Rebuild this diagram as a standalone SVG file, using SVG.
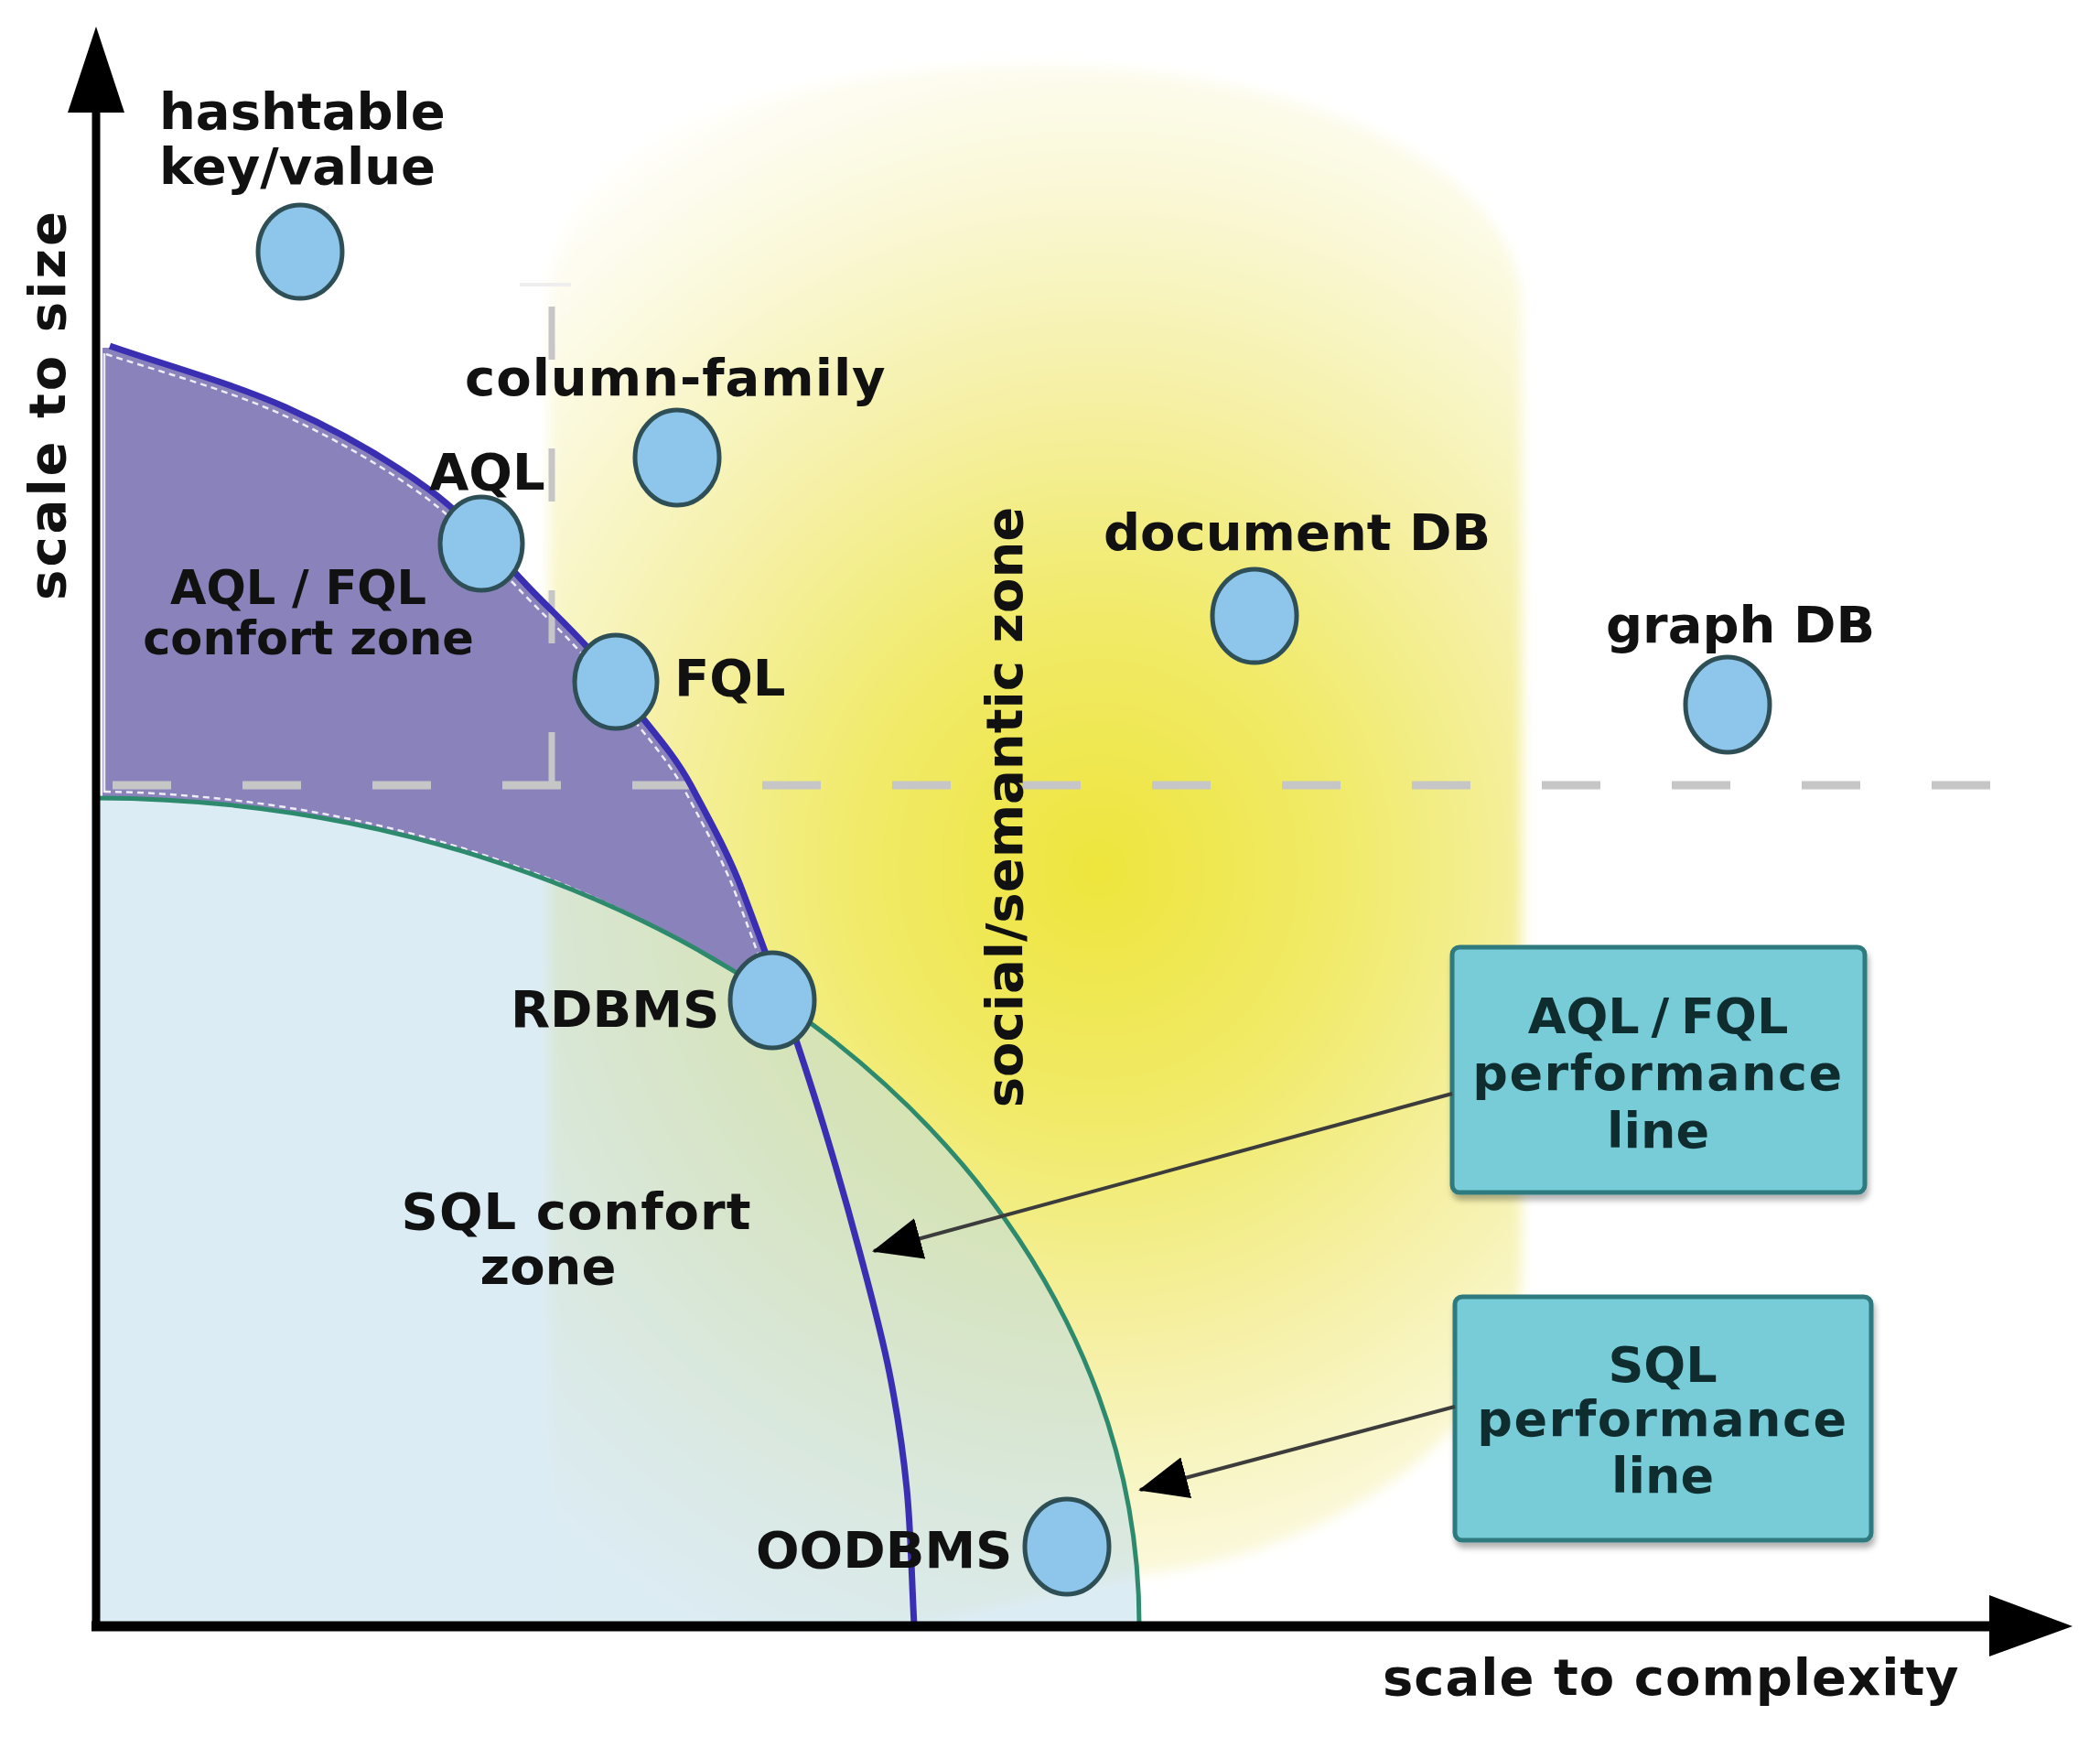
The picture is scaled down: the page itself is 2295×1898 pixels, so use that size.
<svg xmlns="http://www.w3.org/2000/svg" width="2295" height="1898" viewBox="0 0 2295 1898">
<defs>
  <radialGradient id="yel" gradientUnits="userSpaceOnUse" cx="1200" cy="950" r="900" gradientTransform="translate(1200,950) scale(1,1.05) translate(-1200,-950)">
    <stop offset="0" stop-color="#eee53c"/>
    <stop offset="0.3" stop-color="#f1ea6a"/>
    <stop offset="0.55" stop-color="#f5f0a4"/>
    <stop offset="0.8" stop-color="#faf8d8"/>
    <stop offset="1" stop-color="#fffefa"/>
  </radialGradient>
  <filter id="soft" x="-5%" y="-5%" width="110%" height="110%"><feGaussianBlur stdDeviation="7"/></filter>
  <filter id="shadow" x="-5%" y="-5%" width="115%" height="120%"><feDropShadow dx="2" dy="6" stdDeviation="3" flood-color="#000" flood-opacity="0.3"/></filter>
  <filter id="axsh" x="-5%" y="-50%" width="110%" height="300%"><feGaussianBlur stdDeviation="3"/></filter>
  <marker id="ah" viewBox="0 0 54 46" refX="52" refY="23" markerWidth="54" markerHeight="46" markerUnits="userSpaceOnUse" orient="auto">
    <path d="M0,0 L54,23 L0,46 Z" fill="#000"/>
  </marker>
</defs>
<style>
  text{font-family:"DejaVu Sans","Liberation Sans",sans-serif;font-weight:bold}
  .lbl{fill:#111;font-size:56px}
  .sm{font-size:51px}
  .mid{text-anchor:middle}
  .dot{fill:#8ec5ea;stroke:#2f4f57;stroke-width:5}
  .box{fill:#77ccd8;stroke:#2d7a7e;stroke-width:5}
  .btxt{fill:#0f2c2f;font-size:54px;text-anchor:middle}
  .conn{stroke:#3c3c3c;stroke-width:4;fill:none;marker-end:url(#ah)}
  .gdash{stroke:#c6c6c6;fill:none}
  .wdash{stroke:#ffffff;stroke-width:2.5;fill:none;stroke-dasharray:7 5;opacity:0.85}
</style>

<rect x="0" y="0" width="2295" height="1898" fill="#ffffff"/>

<g id="zones">
  <!-- social/semantic yellow zone -->
  <path d="M600,1775 L600,330 C600,150 850,72 1130,72 C1420,72 1663,180 1663,340 L1663,1390 C1663,1560 1450,1700 1250,1720 L1000,1775 Z" fill="url(#yel)" filter="url(#soft)"/>
  <!-- SQL confort zone -->
  <path d="M106,872 A1143,903 0 0 1 1245,1775 L106,1775 Z" fill="#b9d9eb" opacity="0.5"/>
  <!-- AQL/FQL confort zone -->
  <path d="M112,380 L120,380 C184,400 254,419 312,445 C370,471 424,502 469,535 C514,568 546,609 580,644 C614,679 644,705 672,745 C700,785 733,817 755,858 C777,899 797,935 812,975 C827,1015 842,1055 856,1095 A1143,903 0 0 0 112,872 Z" fill="#8a82ba"/>
  <path class="wdash" transform="translate(-6,7)" d="M122,380 C184,400 254,419 312,445 C370,471 424,502 469,535 C514,568 546,609 580,644 C614,679 644,705 672,745 C700,785 733,817 755,858 C777,899 797,935 812,975 C827,1015 840,1050 850,1080"/>
  <path class="wdash" transform="translate(0,-7)" d="M114,872 A1143,903 0 0 1 846,1098"/>
  <line x1="114" y1="386" x2="114" y2="866" stroke="#ffffff" stroke-width="2.5" opacity="0.8"/>
</g>

<g id="guides">
  <line class="gdash" x1="123" y1="858" x2="2186" y2="858" stroke-width="9" stroke-dasharray="64 78"/>
  <line class="gdash" x1="603" y1="858" x2="603" y2="327" stroke-width="7" stroke-dasharray="58 97"/>
  <line x1="568" y1="311" x2="624" y2="311" stroke="#eeeeee" stroke-width="4"/>
</g>

<g id="curves">
  <path d="M106,872 A1143,903 0 0 1 1245,1775" fill="none" stroke="#2e8a6c" stroke-width="5"/>
  <path d="M120,378 C184,400 254,419 312,445 C370,471 424,502 469,535 C514,568 546,609 580,644 C614,679 644,705 672,745 C700,785 733,817 755,858 C777,899 797,935 812,975 C827,1015 842,1055 856,1095 C869.7,1135 886,1184.2 900,1230 C914,1275.8 928,1325 940,1370 C952,1415 963.5,1457.2 972,1500 C980.5,1542.8 986.5,1581.2 991,1627 C995.5,1672.8 996.3,1725.7 999,1775" fill="none" stroke="#3a2fb2" stroke-width="7"/>
</g>

<g id="axes">
  <line x1="104" y1="1786" x2="2190" y2="1786" stroke="#888" stroke-width="8" opacity="0.5" filter="url(#axsh)"/>
  <line x1="105" y1="1782" x2="105" y2="110" stroke="#000" stroke-width="9"/>
  <path d="M74,123 L105,29 L136,123 Z" fill="#000"/>
  <line x1="100" y1="1777" x2="2185" y2="1777" stroke="#000" stroke-width="11"/>
  <path d="M2174,1743 L2265,1777 L2174,1810 Z" fill="#000"/>
  <text class="lbl" transform="translate(71,442) rotate(-90)" text-anchor="middle" font-size="57" letter-spacing="3">scale to size</text>
  <text class="lbl" x="1511" y="1852" letter-spacing="1">scale to complexity</text>
</g>

<g id="zone-labels">
  <text class="lbl sm mid" x="326" y="660">AQL / FQL</text>
  <text class="lbl sm mid" x="337" y="715">confort zone</text>
  <text class="lbl mid" x="630" y="1343" letter-spacing="1">SQL confort</text>
  <text class="lbl mid" x="599" y="1403">zone</text>
  <text class="lbl" transform="translate(1117,882) rotate(-90)" text-anchor="middle">social/semantic zone</text>
</g>

<g id="node-hashtable">
  <ellipse class="dot" cx="328" cy="275" rx="46" ry="51"/>
  <text class="lbl" x="174" y="141">hashtable</text>
  <text class="lbl" x="174" y="201">key/value</text>
</g>
<g id="node-column-family">
  <ellipse class="dot" cx="740" cy="500" rx="46" ry="52"/>
  <text class="lbl" x="508" y="432" letter-spacing="1">column-family</text>
</g>
<g id="node-aql">
  <ellipse class="dot" cx="526" cy="594" rx="45" ry="51"/>
  <text class="lbl" x="469" y="535" font-size="50">AQL</text>
</g>
<g id="node-fql">
  <ellipse class="dot" cx="673" cy="745" rx="45" ry="51"/>
  <text class="lbl" x="737" y="760" font-size="50">FQL</text>
</g>
<g id="node-document-db">
  <ellipse class="dot" cx="1371" cy="673" rx="46" ry="51"/>
  <text class="lbl" x="1206" y="601">document DB</text>
</g>
<g id="node-graph-db">
  <ellipse class="dot" cx="1888" cy="770" rx="46" ry="52"/>
  <text class="lbl" x="1755" y="702">graph DB</text>
</g>
<g id="node-rdbms">
  <ellipse class="dot" cx="844" cy="1093" rx="46" ry="52"/>
  <text class="lbl" x="558" y="1122" font-size="55">RDBMS</text>
</g>
<g id="node-oodbms">
  <ellipse class="dot" cx="1166" cy="1690" rx="46" ry="52"/>
  <text class="lbl" x="826" y="1713" font-size="55">OODBMS</text>
</g>

<g id="box-aql-fql-performance">
  <rect class="box" x="1587" y="1035" width="451" height="268" rx="8" filter="url(#shadow)"/>
  <text class="btxt" x="1812" y="1129" word-spacing="-6">AQL / FQL</text>
  <text class="btxt" x="1812" y="1191" letter-spacing="1.5">performance</text>
  <text class="btxt" x="1812" y="1254">line</text>
</g>
<g id="box-sql-performance">
  <rect class="box" x="1590" y="1417" width="455" height="266" rx="8" filter="url(#shadow)"/>
  <text class="btxt" x="1817" y="1510">SQL</text>
  <text class="btxt" x="1817" y="1569" letter-spacing="1.5">performance</text>
  <text class="btxt" x="1817" y="1631">line</text>
</g>

<g id="connectors">
  <path class="conn" d="M1587,1195 L955,1367"/>
  <path class="conn" d="M1590,1537 L1246,1628"/>
</g>
</svg>
